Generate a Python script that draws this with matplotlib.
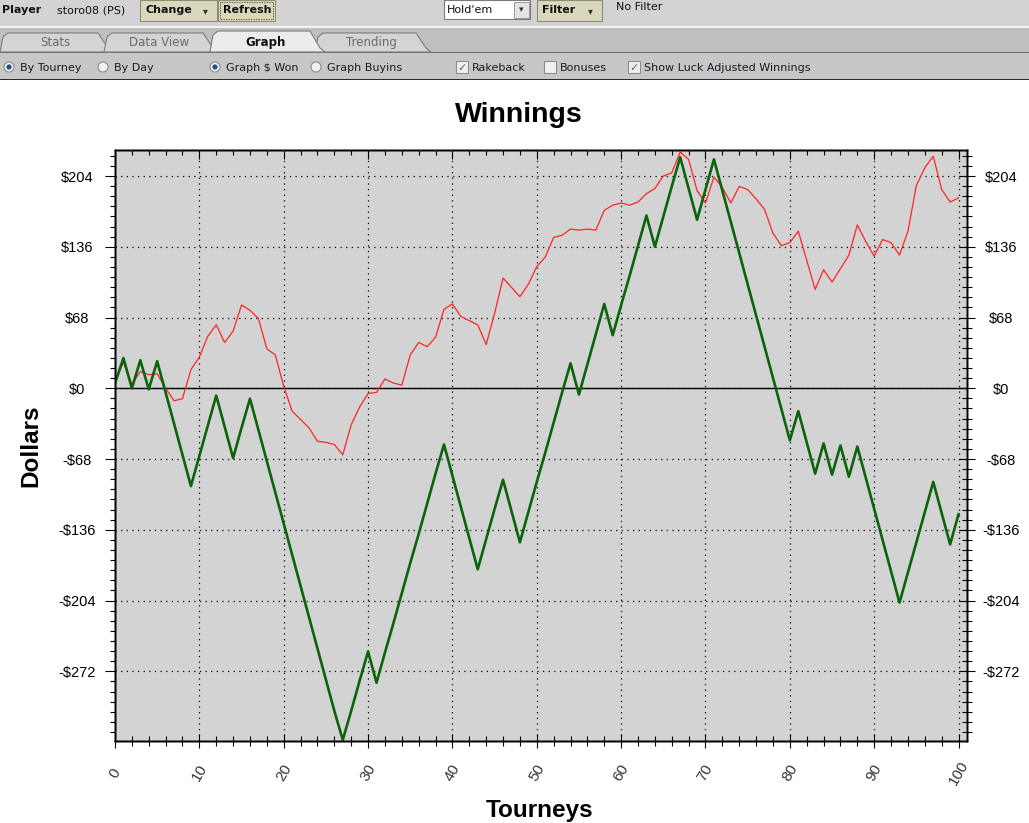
import matplotlib
matplotlib.use("Agg")
import matplotlib.pyplot as plt
from matplotlib.patches import Rectangle, Polygon, Circle
from matplotlib.ticker import MultipleLocator, FixedLocator

# data (one value per tourney, 0..100)
tourneys = list(range(101))
winnings = [5, 29, 0, 27, -1, 26, -4, -34, -64, -94,
            -65, -36, -7, -37, -67, -38, -10, -40, -70, -100,
            -130, -160, -190, -220, -250, -280, -310, -338, -310, -281,
            -253, -283, -254, -226, -197, -168, -140, -111, -82, -54,
            -84, -114, -144, -174, -145, -116, -88, -118, -148, -119,
            -90, -62, -33, -4, 24, -6, 23, 52, 81, 51,
            80, 108, 137, 166, 136, 165, 194, 222, 192, 162,
            191, 220, 190, 160, 130, 100, 70, 40, 10, -20,
            -50, -22, -52, -82, -53, -83, -55, -85, -56, -86,
            -116, -146, -176, -206, -177, -148, -119, -90, -120, -150,
            -121]
luck_adjusted = [6, 25, 4, 16, 13, 14, 0, -12, -10, 18,
                 30, 50, 61, 44, 55, 80, 75, 67, 38, 32,
                 2, -22, -30, -38, -51, -52, -54, -64, -35, -18,
                 -5, -4, 9, 5, 3, 32, 44, 40, 49, 76,
                 81, 69, 65, 61, 42, 72, 106, 97, 88, 100,
                 117, 126, 145, 147, 153, 152, 153, 152, 171, 176,
                 178, 176, 179, 187, 192, 204, 207, 227, 220, 190,
                 178, 203, 193, 178, 194, 191, 182, 172, 149, 137,
                 140, 151, 123, 95, 114, 102, 115, 128, 157, 141,
                 127, 143, 140, 128, 151, 195, 212, 223, 191, 179,
                 183]
y_ticks = [-272, -204, -136, -68, 0, 68, 136, 204]
x_ticks = [0, 10, 20, 30, 40, 50, 60, 70, 80, 90, 100]


def dollars(v):
    return "-$%d" % (-v) if v < 0 else "$%d" % v


fig = plt.figure(figsize=(10.29, 8.23), dpi=100)
fig.patch.set_facecolor("white")

# ---- application chrome (pixel coordinates) ----
ui = fig.add_axes([0, 0, 1, 1])
ui.set_xlim(0, 1029)
ui.set_ylim(823, 0)
ui.axis("off")

ui.add_patch(Rectangle((0, 0), 1029, 26, fc="#d3d3d3", ec="none"))
ui.add_patch(Rectangle((0, 26), 1029, 2, fc="#f4f4f4", ec="none"))
ui.add_patch(Rectangle((0, 28), 1029, 24, fc="#bfbfbf", ec="none"))
ui.add_patch(Rectangle((0, 51.5), 1029, 1.5, fc="#666666", ec="none"))
ui.add_patch(Rectangle((0, 53), 1029, 26, fc="#c7c7c7", ec="none"))
ui.add_patch(Rectangle((0, 78.5), 1029, 1.2, fc="#2a2a2a", ec="none"))

fs_ui = 8
ui.text(2, 10, "Player", fontsize=fs_ui, fontweight="bold", va="center", color="#111111")
ui.text(57, 10, "storo08 (PS)", fontsize=fs_ui, va="center", color="#111111")


def button(x0, x1, label, arrow=False, focus=False):
    ui.add_patch(Rectangle((x0, 0), x1 - x0, 21, fc="#dad8bc", ec="#8e8c74", lw=0.8))
    if focus:
        ui.add_patch(Rectangle((x0 + 2, 2), x1 - x0 - 4, 17, fc="none", ec="#333333",
                               lw=0.6, ls=(0, (1, 1))))
    ui.text(x0 + 5, 10, label, fontsize=fs_ui, fontweight="bold", va="center", color="#111111")
    if arrow:
        ui.text(x1 - 12, 11, "\u25be", fontsize=7, va="center", ha="center", color="#333333")


button(140, 217, "Change", arrow=True)
button(218, 275, "Refresh", focus=True)
button(537, 602, "Filter", arrow=True)

ui.add_patch(Rectangle((444, 0), 86, 19, fc="white", ec="#7a7a7a", lw=0.8))
ui.add_patch(Rectangle((514, 1.5), 15, 16, fc="#e4e4e4", ec="#8a8a8a", lw=0.6))
ui.text(521.5, 10, "\u25be", fontsize=6.5, va="center", ha="center", color="#333333")
ui.text(447, 9.5, "Hold'em", fontsize=fs_ui, va="center", color="#111111")
ui.text(616, 7, "No Filter", fontsize=fs_ui, va="center", color="#111111")

# tabs
tabs = [("Stats", 0, 104, False), ("Data View", 104, 209, False),
        ("Trending", 315, 422, False), ("Graph", 210, 316, True)]
for name, x0, x1, sel in tabs:
    top = 31 if sel else 33
    pts = [(x0, 52), (x0 + 3, top + 4), (x0 + 8, top), (x1 - 6, top),
           (x1 + 4, 48), (x1 + 9, 52)]
    ui.add_patch(Polygon(pts, closed=True, fc="#ececec" if sel else "#d2d4d6",
                         ec="#7c7c7c", lw=0.8))
    ui.text((x0 + x1) / 2 + 3, 42.5, name, fontsize=8.5, ha="center", va="center",
            fontweight="bold" if sel else "normal",
            color="#111111" if sel else "#6a6a6a")

# option row
radios = [(9, "By Tourney", True), (103, "By Day", False),
          (215, "Graph $ Won", True), (316, "Graph Buyins", False)]
for cx, label, on in radios:
    ui.add_patch(Circle((cx, 67), 5, fc="#f2f2f2", ec="#8c8c8c", lw=0.8))
    if on:
        ui.add_patch(Circle((cx, 67), 2.6, fc="#1f4f8f", ec="none"))
    ui.text(cx + 11, 67.5, label, fontsize=fs_ui, va="center", color="#1a1a2a")

checks = [(456, "Rakeback", True), (544, "Bonuses", False),
          (628, "Show Luck Adjusted Winnings", True)]
for cx, label, on in checks:
    ui.add_patch(Rectangle((cx, 61), 12, 12, fc="#f0f0f0", ec="#8c8c8c", lw=0.8))
    if on:
        ui.text(cx + 6, 67.5, "\u2713", fontsize=8, ha="center", va="center", color="#5a6a80")
    ui.text(cx + 16, 67.5, label, fontsize=fs_ui, va="center", color="#1a1a2a")

# ---- chart ----
L, R, T, B = 115, 967, 150, 741
ax = fig.add_axes([L / 1029, 1 - B / 823, (R - L) / 1029, (B - T) / 823])
ax.set_facecolor("#d3d3d3")
ax.set_xlim(0, 101)
ax.set_ylim(-339, 229)

ax.grid(which="major", color="black", linestyle=(0, (1, 3.5)), linewidth=0.9)
ax.axhline(0, color="black", lw=1.0, zorder=2)
ax.plot(tourneys, luck_adjusted, color="#ff2424", lw=0.9, zorder=3)
ax.plot(tourneys, winnings, color="#0b640b", lw=1.9, zorder=4)

for sp in ax.spines.values():
    sp.set_color("black")
    sp.set_linewidth(1.0)

ax.yaxis.set_major_locator(FixedLocator(y_ticks))
ax.yaxis.set_minor_locator(MultipleLocator(68 / 7))
ax.set_yticklabels([dollars(v) for v in y_ticks], fontfamily="Liberation Sans", fontsize=10.5)
plt.setp(ax.get_yticklabels(), ha="center")
ax.tick_params(axis="y", which="major", direction="out", length=7.2, width=0.8, pad=20)
ax.tick_params(axis="y", which="minor", direction="out", length=3.6, width=0.8)

ax.xaxis.set_major_locator(FixedLocator(x_ticks))
ax.xaxis.set_minor_locator(MultipleLocator(2))
ax.set_xticklabels([str(v) for v in x_ticks], fontfamily="Liberation Sans", fontsize=11,
                   rotation=60, color="#333333")
plt.setp(ax.get_xticklabels(), ha="center", va="center")
ax.tick_params(axis="x", which="major", direction="inout", length=10, width=0.8, pad=18)
ax.tick_params(axis="x", which="minor", direction="inout", length=6.5, width=0.8)

ax_r = ax.twinx()
ax_r.set_ylim(ax.get_ylim())
ax_r.yaxis.set_major_locator(FixedLocator(y_ticks))
ax_r.yaxis.set_minor_locator(MultipleLocator(68 / 7))
ax_r.set_yticklabels([dollars(v) for v in y_ticks], fontfamily="Liberation Sans", fontsize=10.5)
plt.setp(ax_r.get_yticklabels(), ha="center")
ax_r.tick_params(axis="y", which="major", direction="inout", length=11.5, width=0.8, pad=19)
ax_r.tick_params(axis="y", which="minor", direction="inout", length=6.5, width=0.8)

ax_t = ax.twiny()
ax_t.set_xlim(ax.get_xlim())
ax_t.xaxis.set_major_locator(FixedLocator(x_ticks))
ax_t.xaxis.set_minor_locator(MultipleLocator(2))
ax_t.tick_params(axis="x", which="both", direction="in", labeltop=False, width=0.8)
ax_t.tick_params(axis="x", which="major", length=6.5)
ax_t.tick_params(axis="x", which="minor", length=3.6)
for a in (ax_r, ax_t):
    for sp in a.spines.values():
        sp.set_color("black")
        sp.set_linewidth(1.0)

fig.text(519 / 1029, 1 - 122 / 823, "Winnings", fontfamily="Liberation Sans",
         fontsize=20.5, fontweight="bold", ha="center", va="baseline")
fig.text(31 / 1029, 1 - 446 / 823, "Dollars", fontfamily="Liberation Sans",
         fontsize=17.5, fontweight="bold", rotation=90, ha="center", va="center")
fig.text(540 / 1029, 1 - 817 / 823, "Tourneys", fontfamily="Liberation Sans",
         fontsize=17.5, fontweight="bold", ha="center", va="baseline")

fig.savefig("out.png", dpi=100)
